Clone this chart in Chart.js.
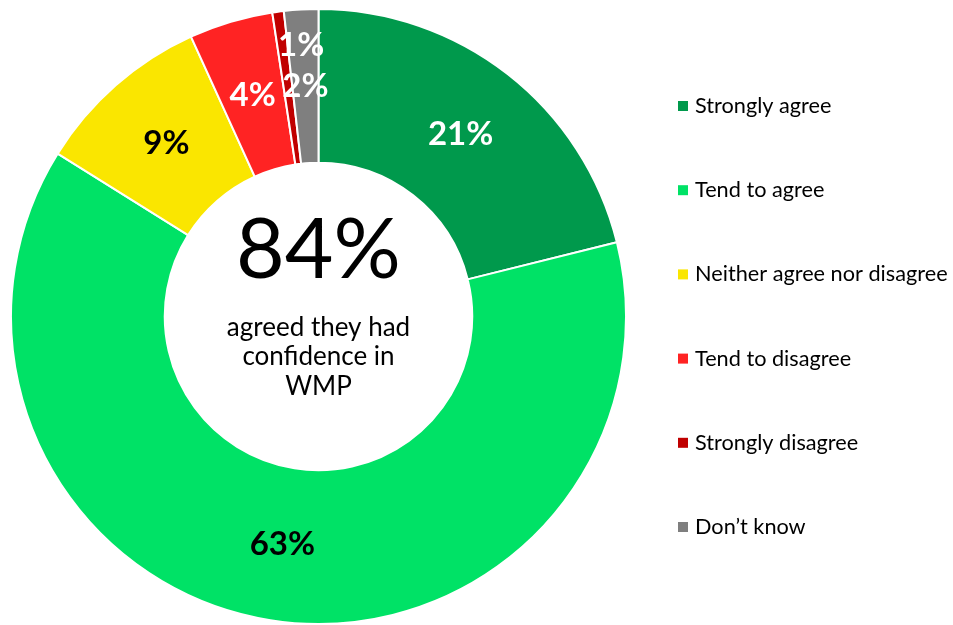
<!DOCTYPE html>
<html>
<head>
<meta charset="utf-8">
<script src="https://cdn.jsdelivr.net/npm/chart.js@4.4.1/dist/chart.umd.min.js"></script>
<style>
  html, body { margin: 0; padding: 0; background: #fff; }
  #wrap { position: relative; width: 953px; height: 625px; }
</style>
</head>
<body>
<div id="wrap"><canvas id="chart" width="953" height="625"></canvas></div>
<script>
const categories = ["Strongly agree", "Tend to agree", "Neither agree nor disagree", "Tend to disagree", "Strongly disagree", "Don\u2019t know"];
const values = [21.1, 62.7, 9.3, 4.4, 0.6, 1.8];
const sliceColors = ["#00994C", "#00E266", "#FAE600", "#FF2323", "#C00000", "#7F7F7F"];
const labelColors = ["#fff", "#000", "#000", "#fff", "#fff", "#fff"];
const centerValue = "84%";
const centerCaption = ["agreed they had", "confidence in", "WMP"];

const FONT = "Lato, 'Open Sans', sans-serif";

// slice value labels
const sliceLabels = {
  id: "sliceLabels",
  afterDatasetsDraw(chart) {
    const { ctx } = chart;
    const meta = chart.getDatasetMeta(0);
    ctx.save();
    ctx.font = "bold 33px " + FONT;
    ctx.textAlign = "center";
    ctx.textBaseline = "middle";
    meta.data.forEach((arc, i) => {
      const p = arc.tooltipPosition();
      let x = p.x, y = p.y;
      if (i === 4) { x += 13; y -= 43; } // small slice label nudged like the original
      ctx.fillStyle = labelColors[i];
      ctx.fillText(Math.round(values[i]) + "%", x, y);
    });
    ctx.restore();
  }
};

// big number in the hole
const centerText = {
  id: "centerText",
  afterDraw(chart) {
    const { ctx } = chart;
    const arc = chart.getDatasetMeta(0).data[0];
    const cx = arc.x, cy = arc.y;
    ctx.save();
    ctx.fillStyle = "#000";
    ctx.textAlign = "center";
    ctx.textBaseline = "middle";
    ctx.font = "84px " + FONT;
    ctx.fillText(centerValue, cx, cy - 66);
    ctx.font = "26px " + FONT;
    centerCaption.forEach((line, i) => {
      ctx.fillText(line, cx, cy + 11 + i * 29.5);
    });
    ctx.restore();
  }
};

// legend on the right, one item per row
const sideLegend = {
  id: "sideLegend",
  afterDraw(chart) {
    const { ctx } = chart;
    ctx.save();
    ctx.font = "21.7px " + FONT;
    ctx.textBaseline = "middle";
    ctx.textAlign = "left";
    categories.forEach((c, i) => {
      const y = 106 + i * 84.2;
      ctx.fillStyle = sliceColors[i];
      ctx.fillRect(678, y - 5, 10, 10);
      ctx.fillStyle = "#000";
      ctx.fillText(c, 695, y);
    });
    ctx.restore();
  }
};

new Chart(document.getElementById("chart").getContext("2d"), {
  type: "doughnut",
  data: {
    labels: categories,
    datasets: [{
      data: values,
      backgroundColor: sliceColors,
      borderColor: "#fff",
      borderWidth: 2,
    }],
  },
  options: {
    responsive: false,
    animation: false,
    cutout: "50%",
    layout: { padding: { top: 8, left: 10, right: 326, bottom: 0 } },
    plugins: {
      legend: { display: false },
      tooltip: { enabled: false },
    },
  },
  plugins: [sliceLabels, centerText, sideLegend],
});
</script>
</body>
</html>
